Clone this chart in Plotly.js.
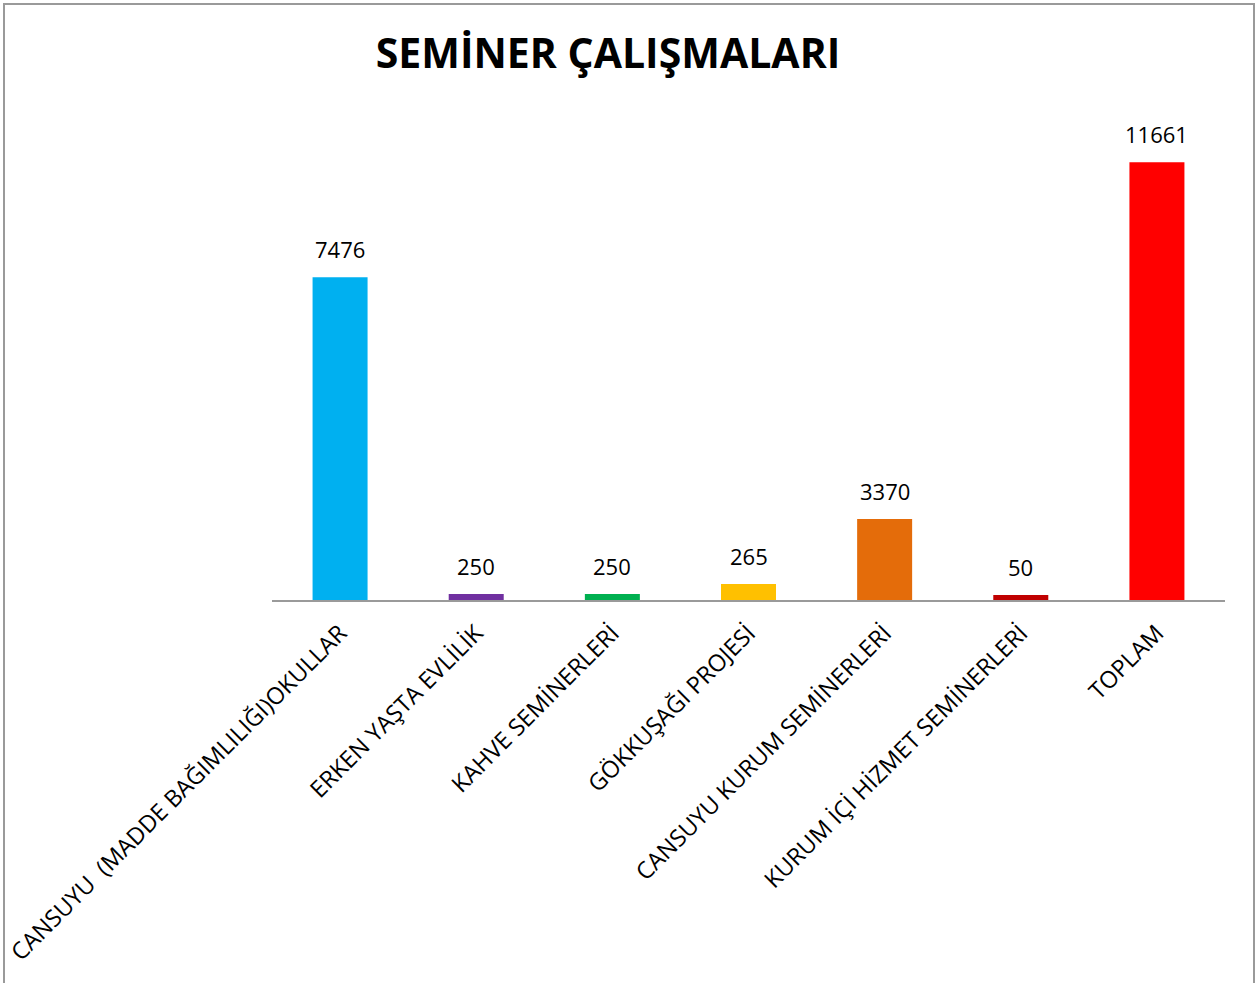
<!DOCTYPE html>
<html>
<head>
<meta charset="utf-8">
<script src="https://cdn.plot.ly/plotly-3.0.1.min.js"></script>
<style>
  html, body { margin: 0; padding: 0; background: #fff; overflow: hidden; }
  #chart { width: 1256px; height: 983px; position: absolute; left: 0; top: 0; }
  #frame { position: absolute; left: 3px; top: 3px; width: 1248px; height: 1000px;
           border-left: 2px solid #9a9a9a; border-top: 2px solid #9a9a9a; border-right: 2px solid #9a9a9a;
           pointer-events: none; }
</style>
</head>
<body>
<div id="chart"></div>
<div id="frame"></div>
<script>
// Category names (x axis)
const categories = [
  "CANSUYU  (MADDE BAĞIMLILIĞI)OKULLAR",
  "ERKEN YAŞTA EVLİLİK",
  "KAHVE SEMİNERLERİ",
  "GÖKKUŞAĞI PROJESİ",
  "CANSUYU KURUM SEMİNERLERİ",
  "KURUM İÇİ HİZMET SEMİNERLERİ",
  "TOPLAM"
];
// Bar heights (scaled to the TOPLAM bar)
const barValues = [8600, 160, 160, 426, 2157, 133, 11661];
// Data labels printed above the bars
const dataLabels = ["7476", "250", "250", "265", "3370", "50", "11661"];
const barColors = ["#00B0F0", "#7030A0", "#00B050", "#FFC000", "#E46C0A", "#C00000", "#FF0000"];

const trace = {
  type: "bar",
  x: categories,
  y: barValues,
  marker: { color: barColors, line: { width: 0 } },
  hoverinfo: "none",
  showlegend: false
};

const annotations = categories.map((c, i) => ({
  x: c, y: barValues[i], xref: "x", yref: "y",
  text: dataLabels[i], showarrow: false,
  yanchor: "bottom", xanchor: "center", yshift: 11,
  font: { family: "Open Sans, sans-serif", size: 22, color: "#000" }
}));

const layout = {
  width: 1256, height: 983,
  paper_bgcolor: "rgba(0,0,0,0)", plot_bgcolor: "#fff",
  margin: { l: 272, r: 31, t: 112, b: 383, pad: 0 },
  title: {
    text: "<b>SEMİNER ÇALIŞMALARI</b>",
    font: { family: "Open Sans, sans-serif", size: 41, color: "#000" },
    x: 608 / 1256, xanchor: "center", xref: "container",
    y: 1 - 54 / 983, yanchor: "middle", yref: "container"
  },
  bargap: 0.596,
  xaxis: {
    type: "category",
    showline: true, linecolor: "#9a9a9a", linewidth: 2,
    showgrid: false, zeroline: false, ticks: "",
    tickangle: -45, ticklabelstandoff: 8,
    tickfont: { family: "Open Sans, sans-serif", size: 23.5, color: "#000" },
    fixedrange: true
  },
  yaxis: {
    range: [0, 13000], visible: false, showgrid: false, zeroline: false, fixedrange: true
  },
  annotations: annotations
};

Plotly.newPlot("chart", [trace], layout, { staticPlot: true, displayModeBar: false });
</script>
</body>
</html>
